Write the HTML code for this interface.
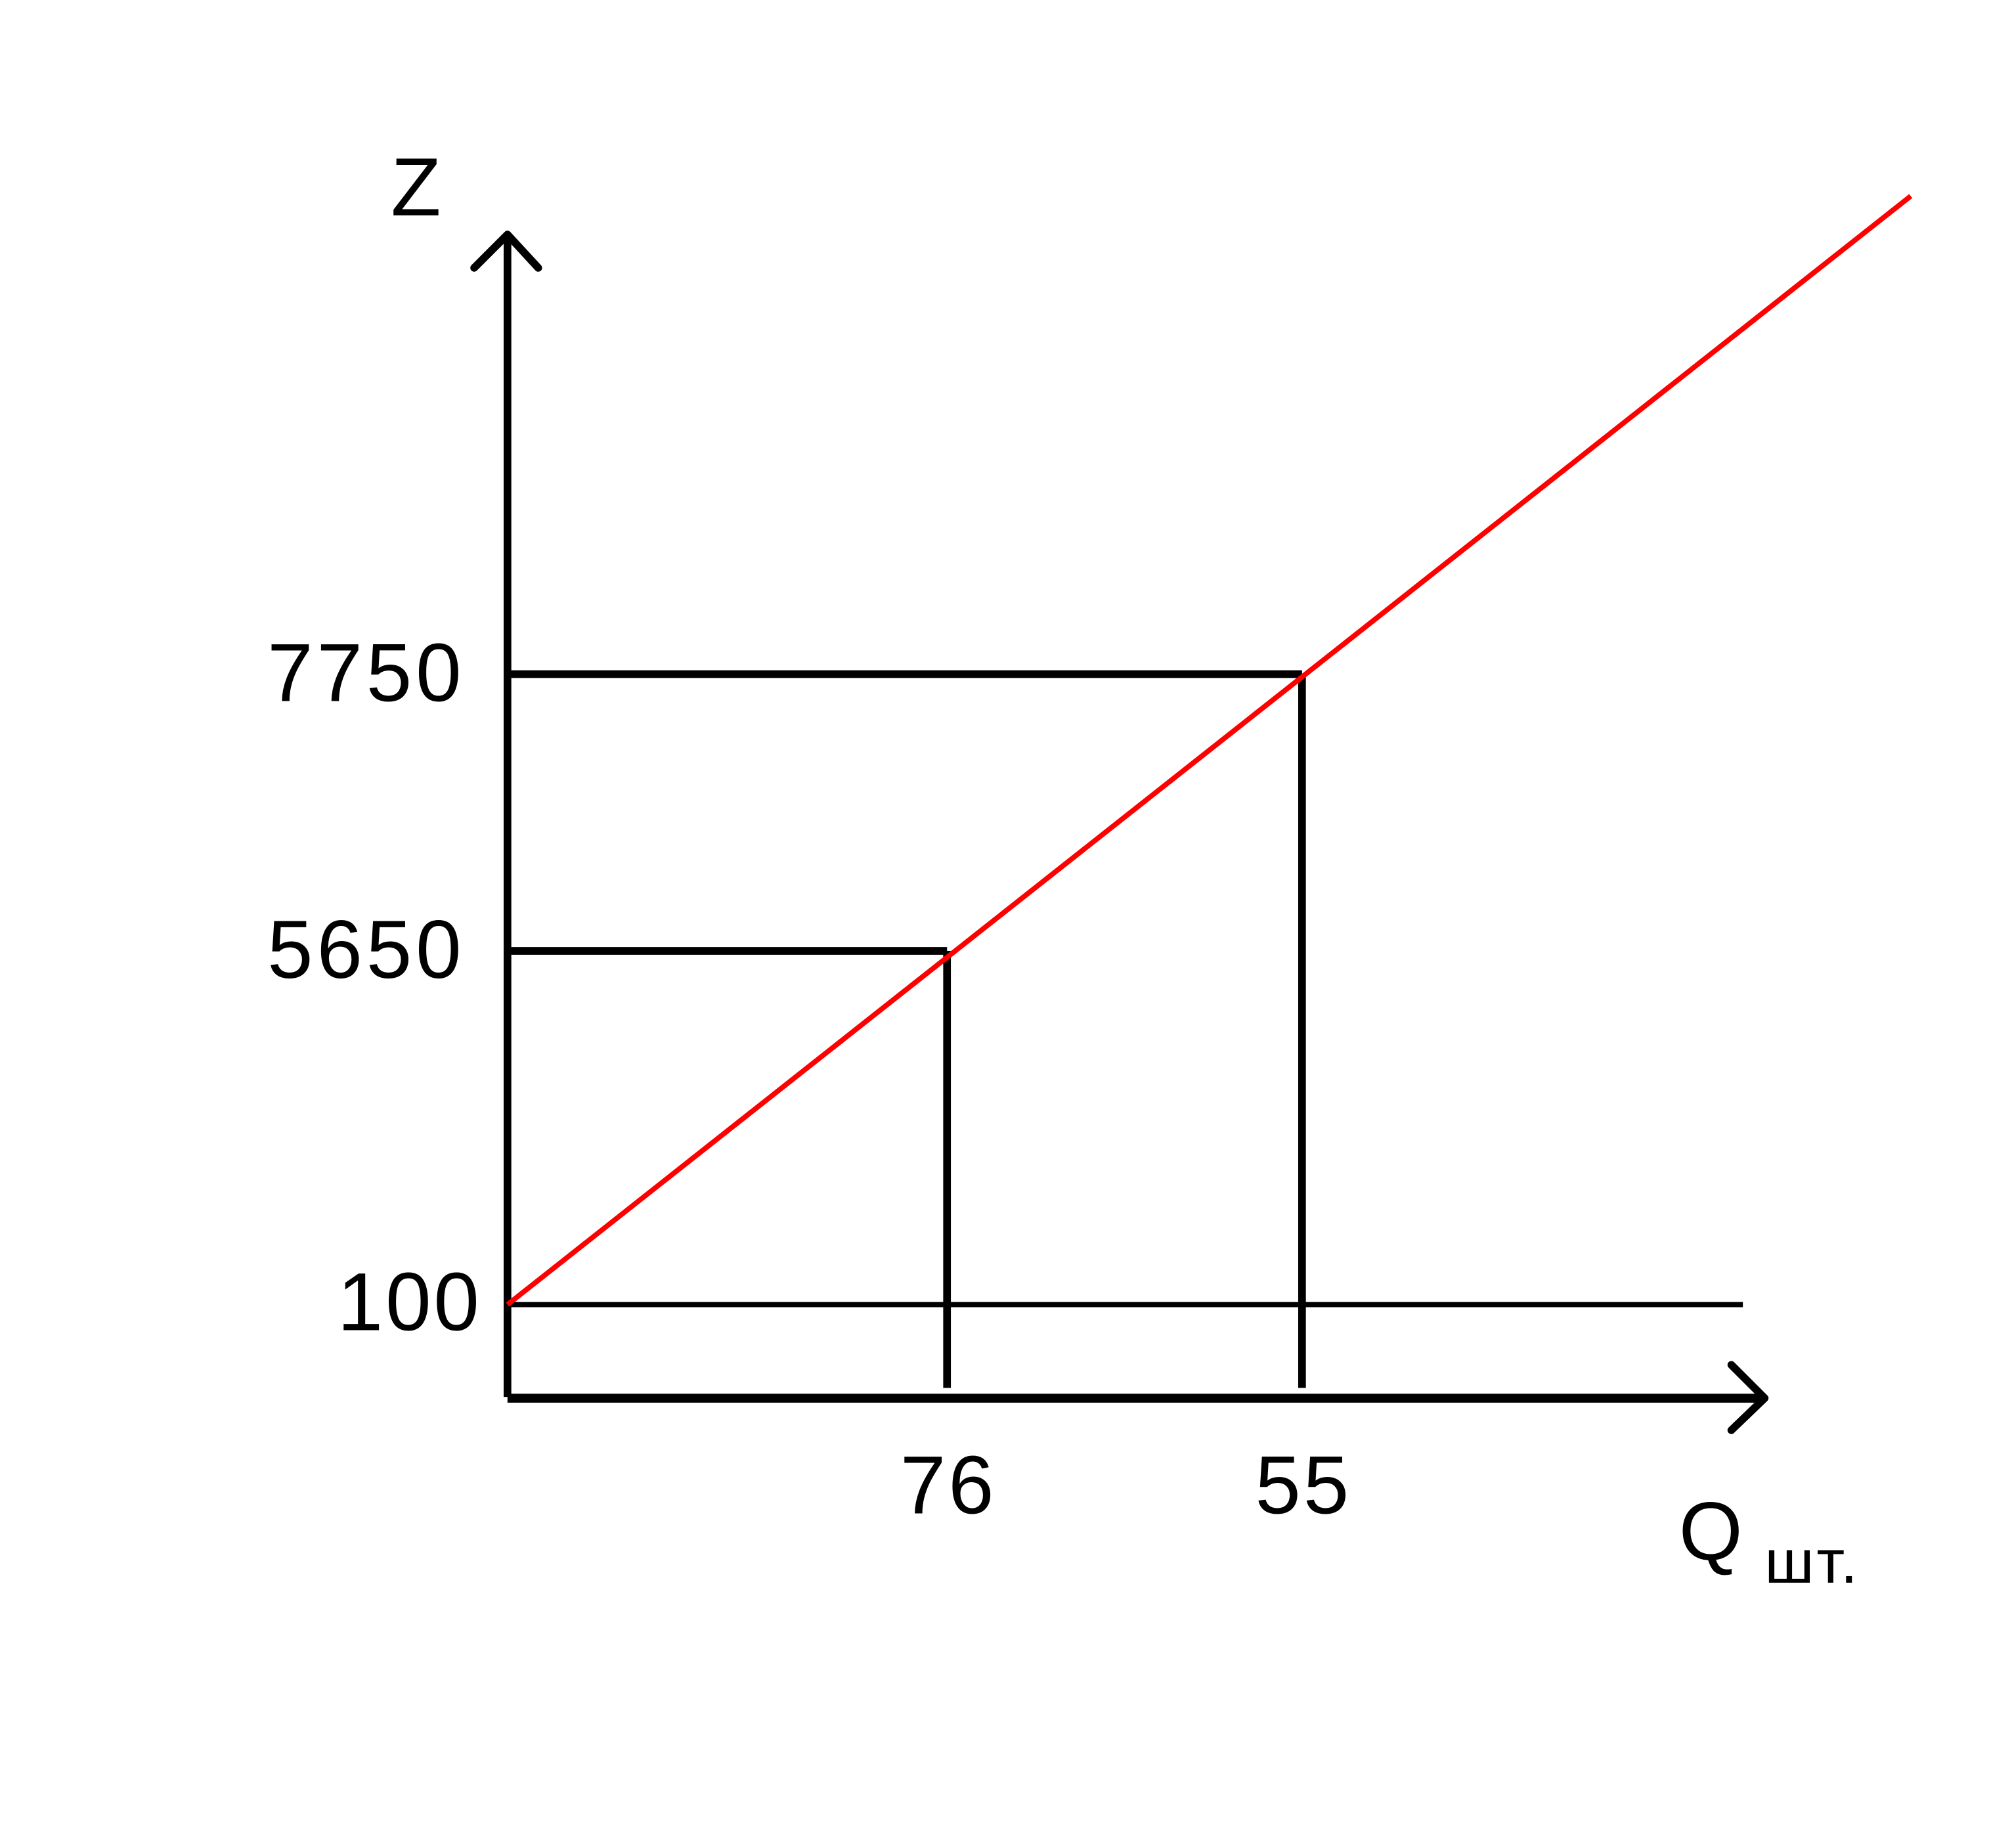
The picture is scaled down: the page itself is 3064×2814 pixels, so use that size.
<!DOCTYPE html>
<html><head><meta charset="utf-8">
<style>
html,body{margin:0;padding:0;background:#fff;}
svg{display:block;}
text{font-family:"Liberation Sans",sans-serif;fill:#000;}
</style></head>
<body>
<svg id="chart" width="3064" height="2814" viewBox="0 0 1570 1442" preserveAspectRatio="none" xmlns="http://www.w3.org/2000/svg">
  <rect width="1570" height="1442" fill="#fff"/>
  <g id="axes">
    <line x1="396" y1="185" x2="396" y2="1090" stroke="#000" stroke-width="6"/>
    <polyline points="370,209 396,183 420,209" fill="none" stroke="#000" stroke-width="6" stroke-linecap="round" stroke-linejoin="round"/>
    <line x1="396" y1="1091" x2="1375" y2="1091" stroke="#000" stroke-width="7"/>
    <polyline points="1351,1065 1377,1091 1351,1116" fill="none" stroke="#000" stroke-width="6" stroke-linecap="round" stroke-linejoin="round"/>
    <text x="305" y="168" font-size="64">Z</text>
    <text x="1310" y="1217" font-size="64">Q</text>
    <text x="1377" y="1235" font-size="48" letter-spacing="2">шт.</text>
  </g>
  <g id="marks"></g>
</svg>
<script>
const qLabels = ["76", "55"];
const zValues = [5650, 7750];
const zBase = 100;

// axis functions
const xIdxDomain = [0, 1, 2], xIdxRange = [396, 739, 1016];
function xScale(i){
  for (let k = 0; k < xIdxDomain.length - 1; k++) {
    if (i <= xIdxDomain[k+1] || k === xIdxDomain.length - 2) {
      const t = (i - xIdxDomain[k]) / (xIdxDomain[k+1] - xIdxDomain[k]);
      return xIdxRange[k] + t * (xIdxRange[k+1] - xIdxRange[k]);
    }
  }
}
const yDomain = [100, 5650, 7750], yRange = [1018, 742, 526];
function yScale(v){
  for (let k = 0; k < yDomain.length - 1; k++) {
    if (v <= yDomain[k+1] || k === yDomain.length - 2) {
      const t = (v - yDomain[k]) / (yDomain[k+1] - yDomain[k]);
      return yRange[k] + t * (yRange[k+1] - yRange[k]);
    }
  }
}
const NS = "http://www.w3.org/2000/svg";
const g = document.getElementById("marks");
function mk(tag, attrs){ const e = document.createElementNS(NS, tag); for (const k in attrs) e.setAttribute(k, attrs[k]); g.appendChild(e); return e; }

const base = mk("line", {x1: 396, y1: yScale(zBase), x2: 1360, y2: yScale(zBase), stroke: "#000", "stroke-width": 4});


const bl = mk("text", {x: 376, y: yScale(zBase) + 20, "font-size": 64, "text-anchor": "end", "letter-spacing": 2});
bl.textContent = String(zBase);



const ybottom = 1083;
qLabels.forEach((q, i) => {
  const x = xScale(i + 1), y = yScale(zValues[i]);
  const h = mk("line", {x1: 396, y1: y, x2: x, y2: y, stroke: "#000", "stroke-width": 6});
  
  
  const v = mk("line", {x1: x, y1: y, x2: x, y2: ybottom, stroke: "#000", "stroke-width": 6});
  
  
  const yl = mk("text", {x: 363, y: y + 21, "font-size": 64, "text-anchor": "end", "letter-spacing": 3});
  yl.textContent = String(zValues[i]);
  
  
  const xl = mk("text", {x: x + 1, y: 1181, "font-size": 64, "text-anchor": "middle", "letter-spacing": 2});
  xl.textContent = q;
  
  
});

const rl = mk("line", {x1: xScale(0), y1: yScale(zBase), x2: 1491, y2: 153, stroke: "#ff0000", "stroke-width": 4});


</script>
</body></html>
